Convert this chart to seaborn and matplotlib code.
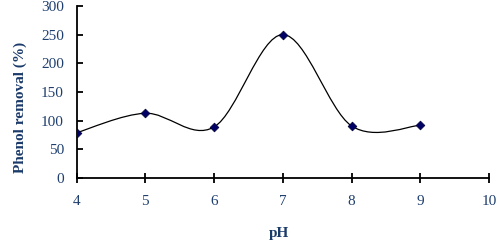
import numpy as np
import matplotlib
matplotlib.use("Agg")
import matplotlib.pyplot as plt
import seaborn as sns
from matplotlib.path import Path
from matplotlib.patches import PathPatch

sns.set_style("white")
plt.rcParams['font.family'] = ['Liberation Serif', 'DejaVu Serif']

ph = [4, 5, 6, 7, 8, 9]
removal = [79, 113, 89, 250, 91, 92]

label_col = "#1f3f6f"

fig = plt.figure(figsize=(5, 2.46), dpi=100)
ax = fig.add_axes([0.153, 0.276, 0.825, 0.7])

# smoothed line through the points (catmull-rom style bezier, like the spreadsheet smooth line)
x = np.array(ph, dtype=float)
y = np.array(removal, dtype=float)
verts = [(x[0], y[0])]
codes = [Path.MOVETO]
n = len(x)
for i in range(n - 1):
    x0, y0 = (x[i - 1], y[i - 1]) if i > 0 else (x[i], y[i])
    x3, y3 = (x[i + 2], y[i + 2]) if i + 2 < n else (x[i + 1], y[i + 1])
    c1 = (x[i] + (x[i + 1] - x0) / 6, y[i] + (y[i + 1] - y0) / 6)
    c2 = (x[i + 1] - (x3 - x[i]) / 6, y[i + 1] - (y3 - y[i]) / 6)
    verts += [c1, c2, (x[i + 1], y[i + 1])]
    codes += [Path.CURVE4] * 3
ax.add_patch(PathPatch(Path(verts, codes), fill=False, edgecolor="black", lw=0.9))

sns.scatterplot(x=ph, y=removal, ax=ax, marker="D", s=20, color="#000066",
                edgecolor="#000033", linewidth=0.5, zorder=3)

ax.set_xlim(4, 10)
ax.set_ylim(0, 300)
ax.set_xticks(range(4, 11))
ax.set_yticks(range(0, 301, 50))
ax.tick_params(axis="x", direction="inout", length=7, width=1.3, pad=9,
               labelsize=11, labelcolor=label_col, color="black")
ax.tick_params(axis="y", direction="in", length=4, width=1.3, pad=9,
               labelsize=11, labelcolor=label_col, color="black")
ax.tick_params(left=True, bottom=True)
for s in ["top", "right"]:
    ax.spines[s].set_visible(False)
for s in ["left", "bottom"]:
    ax.spines[s].set_color("black")
    ax.spines[s].set_linewidth(1.3)

ax.set_xlabel("pH", fontsize=11, fontweight="bold", color="#1a3a6a")
ax.set_ylabel("Phenol removal (%)", fontsize=11, fontweight="bold", color="#1a3a6a")
ax.xaxis.set_label_coords(0.49, -0.285)
ax.yaxis.set_label_coords(-0.12, 0.41)

fig.savefig("out.png", dpi=100)
